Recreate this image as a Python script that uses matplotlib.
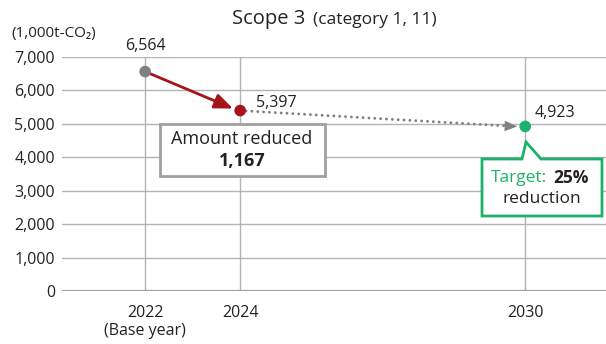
import matplotlib
matplotlib.use("Agg")
import matplotlib.pyplot as plt
from matplotlib.patches import Polygon, Rectangle

years = [2022, 2024, 2030]
values = [6564, 5397, 4923]
value_labels = ["6,564", "5,397", "4,923"]
point_colors = ["#808083", "#a5141b", "#1db16b"]
yticks = [0, 1000, 2000, 3000, 4000, 5000, 6000, 7000]
ytick_labels = ["0", "1,000", "2,000", "3,000", "4,000", "5,000", "6,000", "7,000"]
xtick_labels = ["2022\n(Base year)", "2024", "2030"]
reduced_text = "1,167"

FONT = ["Open Sans", "DejaVu Sans"]
plt.rcParams["font.family"] = FONT
TXT = "#222222"
W, H = 606, 344

fig = plt.figure(figsize=(W / 100, H / 100), dpi=100)
ax = fig.add_axes([62 / W, 1 - 291 / H, (W - 62) / W, (291 - 57) / H])
ax.set_xlim(2020.25, 2031.7)
ax.set_ylim(0, 7000)

def fx(px):
    return px / W

def fy(py):
    return 1 - py / H

# grid
for y in yticks[1:]:
    ax.axhline(y, color="#b3b3b3", lw=1.0, zorder=1)
ax.axhline(0, color="#a0a0a0", lw=1.6, zorder=2)
for x in years:
    ax.plot([x, x], [0, 7000], color="#b3b3b3", lw=1.0, zorder=1)

for s in ax.spines.values():
    s.set_visible(False)
ax.set_yticks(yticks)
ax.set_yticklabels(ytick_labels, fontsize=11.5, color=TXT)
ax.set_xticks(years)
ax.set_xticklabels(xtick_labels, fontsize=11.5, color=TXT, linespacing=1.2)
ax.tick_params(length=0)
ax.tick_params(axis="x", pad=10)
ax.tick_params(axis="y", pad=5)

# red arrow 2022 -> 2024
ax.annotate("", xy=(years[1] - 0.15, values[1] + 60), xytext=(years[0], values[0]),
            arrowprops=dict(arrowstyle="-|>,head_length=1.1,head_width=0.45",
                            color="#a5141b", lw=2.0, shrinkA=0, shrinkB=0), zorder=3)
# dotted gray 2024 -> 2030
ax.plot([years[1], years[2] - 0.3], [values[1], values[2] + 8], color="#808083",
        lw=2.1, linestyle=(0, (0.01, 2.0)), dash_capstyle="round", zorder=3)
ax.annotate("", xy=(years[2] - 0.17, values[2]), xytext=(years[2] - 0.45, values[2] + 14),
            arrowprops=dict(arrowstyle="-|>,head_length=0.9,head_width=0.38",
                            color="#808083", lw=0.01, shrinkA=0, shrinkB=0), zorder=3)

ax.scatter(years, values, s=70, c=point_colors, zorder=5, linewidths=0)

# value labels
ax.text(years[0], values[0] + 760, value_labels[0], ha="center", va="center",
        fontsize=11.5, color=TXT, clip_on=False)
ax.text(years[1] + 0.33, values[1] + 230, value_labels[1], ha="left", va="center",
        fontsize=11.5, color=TXT)
ax.text(years[2] + 0.2, values[2] + 400, value_labels[2], ha="left", va="center",
        fontsize=11.5, color=TXT)

# title
fig.text(fx(305), fy(19), "Scope 3", ha="right", va="center", fontsize=14.5, color=TXT)
fig.text(fx(313), fy(20), "(category 1, 11)", ha="left", va="center", fontsize=12.5, color=TXT)
fig.text(fx(11), fy(33), "(1,000t-CO\u2082)", ha="left", va="center", fontsize=11, color=TXT)

# amount reduced box
box = Rectangle((fx(160), fy(176)), fx(325) - fx(160), fy(124) - fy(176),
                transform=fig.transFigure, facecolor="white", edgecolor="#a0a0a0",
                lw=2.0, zorder=10)
fig.patches.append(box)
fig.text(fx(242), fy(139), "Amount reduced", ha="center", va="center",
         fontsize=13, color=TXT, zorder=11)
fig.text(fx(242), fy(161), reduced_text, ha="center", va="center",
         fontsize=13, fontweight="bold", color=TXT, zorder=11)

# target callout
pts = [(482, 159), (522, 159), (526, 142), (541, 159), (602, 159), (602, 216), (482, 216)]
poly = Polygon([(fx(x), fy(y)) for x, y in pts], closed=True, transform=fig.transFigure,
               facecolor="white", edgecolor="#1db16b", lw=2.0, zorder=10)
fig.patches.append(poly)
fig.text(fx(547), fy(178), "Target:", ha="right", va="center", fontsize=12.5,
         color="#1db16b", zorder=11)
fig.text(fx(553), fy(178), "25%", ha="left", va="center", fontsize=12.5,
         fontweight="bold", color=TXT, zorder=11)
fig.text(fx(542), fy(199), "reduction", ha="center", va="center", fontsize=12.5,
         color=TXT, zorder=11)

fig.savefig("out.png", dpi=100)
